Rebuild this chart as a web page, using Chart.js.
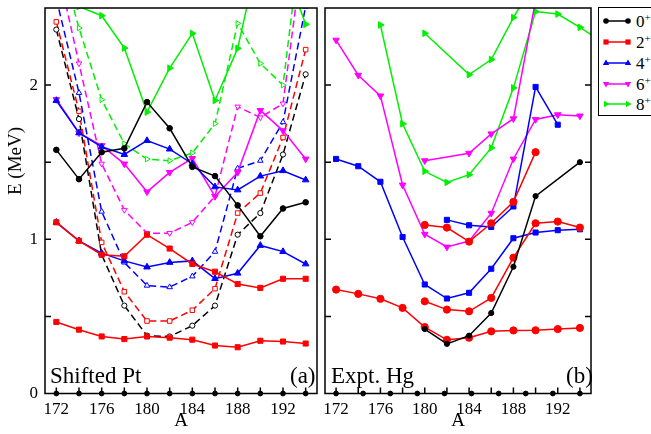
<!DOCTYPE html>
<html>
<head>
<meta charset="utf-8">
<script src="https://cdn.jsdelivr.net/npm/chart.js@4.4.1/dist/chart.umd.min.js"></script>
<style>
  html, body { margin: 0; padding: 0; background: #fff; }
  body { width: 651px; height: 434px; position: relative; overflow: hidden; font-family: "Liberation Serif", "DejaVu Serif", serif; }
  canvas { position: absolute; top: 0; }
  #ptChart { left: 0; }
  #hgChart { left: 320px; }
  .lbl { position: absolute; font-size: 23px; line-height: 23px; white-space: nowrap; color: #000; }
  #ytitle { position: absolute; left: 15px; top: 161px; font-size: 19px; white-space: nowrap; transform: translate(-50%, -50%) rotate(-90deg); }
  #legend { position: absolute; left: 598px; top: 7px; width: 80px; height: 107px; border: 1.5px solid #000; background: #fff; }
  .row { position: absolute; left: 0; height: 20px; width: 80px; }
  .row svg { position: absolute; left: 3px; top: 0; }
  .row span { position: absolute; left: 37px; top: 1px; font-size: 17px; line-height: 20px; }
  .row sup { font-size: 11px; vertical-align: 6px; line-height: 0; }
</style>
</head>
<body>
<canvas id="ptChart" width="322" height="434"></canvas>
<canvas id="hgChart" width="276" height="434"></canvas>
<div id="ytitle">E (MeV)</div>
<div class="lbl" style="left:50px; top:364px;">Shifted Pt</div>
<div class="lbl" style="left:290px; top:364px;">(a)</div>
<div class="lbl" style="left:331px; top:364px;">Expt. Hg</div>
<div class="lbl" style="left:566px; top:364px;">(b)</div>
<div id="legend"></div>
<script>
// mass numbers
const massA = [172, 174, 176, 178, 180, 182, 184, 186, 188, 190, 192, 194];
const massHgExtra = [172, 174, 176, 178, 180, 182, 184, 186, 188, 190, 192, 194, 196];
const xTickLabels = [172, 176, 180, 184, 188, 192];
const xTickMarks = [172, 174, 176, 178, 180, 182, 184, 186, 188, 190, 192, 194];
const yTickLabels = [0, 1, 2];
const yTickMarks = [0.5, 1, 1.5, 2];
const baseDotsPt = [172, 174, 176, 178, 180, 182, 184, 186, 188, 190, 192, 194];
const baseDotsHg = [172, 174.44, 176.89, 179.33, 181.78, 184.22, 186.67, 189.11, 191.56, 194];

// (a) shifted Pt, solid lines
const pt0 = [1.58, 1.39, 1.565, 1.59, 1.89, 1.72, 1.47, 1.41, 1.22, 1.02, 1.20, 1.24];
const pt2a = [0.464, 0.414, 0.37, 0.353, 0.37, 0.362, 0.349, 0.311, 0.30, 0.342, 0.337, 0.324];
const pt2b = [1.11, 0.99, 0.90, 0.89, 1.03, 0.94, 0.84, 0.79, 0.71, 0.685, 0.744, 0.744];
const pt4a = [1.11, 0.99, 0.91, 0.86, 0.82, 0.85, 0.86, 0.745, 0.78, 0.96, 0.92, 0.84];
const pt4b = [1.90, 1.69, 1.60, 1.55, 1.64, 1.585, 1.49, 1.34, 1.32, 1.41, 1.445, 1.385];
const pt6 = [1.907, 1.69, 1.608, 1.489, 1.308, 1.434, 1.525, 1.278, 1.434, 1.836, 1.705, 1.521];
const pt8 = [2.7, 2.51, 2.45, 2.24, 1.825, 2.11, 2.335, 1.90, 2.238, 2.9, 2.8, 2.394];

// (a) dashed lines
const ptd0 = [2.36, 1.78, 0.90, 0.57, 0.375, 0.37, 0.44, 0.57, 1.03, 1.17, 1.55, 2.07];
const ptd2 = [2.41, 1.83, 0.98, 0.66, 0.47, 0.47, 0.54, 0.68, 1.17, 1.30, 1.66, 2.23];
const ptd4 = [2.56, 1.95, 1.18, 0.85, 0.70, 0.69, 0.76, 0.92, 1.46, 1.51, 1.76, 2.51];
const ptd6 = [2.8, 2.14, 1.49, 1.19, 1.04, 1.04, 1.11, 1.28, 1.86, 1.79, 1.88, 3.0];
const ptd8 = [2.9, 2.37, 1.905, 1.62, 1.52, 1.51, 1.56, 1.75, 2.40, 2.14, 2.00, 3.2];

// (b) experimental Hg
const hg0 = [null, null, null, null, 0.418, 0.322, 0.375, 0.522, 0.822, 1.28, null, 1.50];
const hg2a = [0.674, 0.646, 0.614, 0.555, 0.431, 0.348, 0.362, 0.403, 0.409, 0.41, 0.418, 0.425];
const hg2b = [null, null, null, null, 0.598, 0.544, 0.533, 0.62, 0.881, 1.104, 1.115, 1.076];
const hg2c = [null, null, null, null, 1.093, 1.076, 0.985, 1.104, 1.243, 1.565, null, null];
const hg4a = [1.521, 1.474, 1.373, 1.015, 0.707, 0.616, 0.653, 0.809, 1.007, 1.044, 1.059, 1.065];
const hg4b = [null, null, null, null, null, 1.126, 1.091, 1.08, 1.213, 1.988, 1.743, null];
const hg6a = [2.292, 2.064, 1.93, 1.352, 1.033, 0.95, 0.989, 1.169, 1.521, 1.777, 1.808, 1.80];
const hg6b = [null, null, null, null, 1.51, null, 1.558, 1.684, 1.782, 2.55, null, null];
const hg8a = [null, null, 2.39, 1.749, 1.441, 1.369, 1.419, 1.593, 1.982, 2.477, 2.461, 2.375, 2.28];
const hg8b = [null, null, null, null, 2.336, null, 2.068, 2.166, 2.438, 2.68, null, null];

const BLACK = "#000000", RED = "#ff0000", BLUE = "#0000ff", MAGENTA = "#ff00ff", GREEN = "#00f000";

function series(xs, ys, color, marker, opts = {}) {
  const open = opts.open || false;
  return {
    data: xs.map((x, i) => ({ x, y: ys[i] })).filter(p => p.y != null),
    borderColor: color,
    backgroundColor: color,
    borderWidth: 1.5,
    borderDash: opts.dashed ? [7, 4] : [],
    pointStyle: marker.style,
    pointRotation: marker.rot || 0,
    pointRadius: opts.r || marker.r,
    pointBorderWidth: 1,
    pointBorderColor: color,
    pointBackgroundColor: open ? "#ffffff" : color,
    tension: 0
  };
}

const mCircle = { style: "circle", r: 2.8 };
const mSquare = { style: "rect", r: 3.6 };
const mUp = { style: "triangle", r: 3.8 };
const mDown = { style: "triangle", rot: 180, r: 3.8 };
const mRight = { style: "triangle", rot: 90, r: 3.8 };

function baseDots(xs) {
  return {
    data: xs.map(x => ({ x, y: 0 })),
    showLine: false,
    pointRadius: 2.4,
    pointBackgroundColor: BLACK,
    pointBorderColor: BLACK,
    clip: false
  };
}

const frameTicks = {
  id: "frameTicks",
  afterDatasetsDraw(chart, args, opts) {
    const { ctx, chartArea: a, scales } = chart;
    ctx.save();
    ctx.strokeStyle = "#000";
    ctx.lineWidth = 1.5;
    ctx.beginPath();
    xTickMarks.forEach(v => {
      const px = scales.x.getPixelForValue(v);
      ctx.moveTo(px, a.bottom);
      ctx.lineTo(px, a.bottom - 6);
    });
    yTickMarks.forEach(v => {
      const py = scales.y.getPixelForValue(v);
      if (opts.left) { ctx.moveTo(a.left, py); ctx.lineTo(a.left + 6, py); }
      if (opts.right) { ctx.moveTo(a.right, py); ctx.lineTo(a.right - 6, py); }
    });
    ctx.stroke();
    ctx.strokeRect(a.left, a.top, a.width, a.height);
    ctx.restore();
  }
};

function noPad(s) {
  s.paddingTop = 0; s.paddingBottom = 0; s.paddingLeft = 0; s.paddingRight = 0;
}

function xScale() {
  return {
    type: "linear",
    min: 171,
    max: 195,
    grid: { display: false, drawTicks: false },
    border: { display: false },
    afterBuildTicks: s => { s.ticks = xTickLabels.map(v => ({ value: v })); },
    afterFit: s => { s.height = 40.5; noPad(s); },
    ticks: { autoSkip: false, maxRotation: 0, padding: 6, color: "#000", font: { family: "Liberation Serif", size: 17 } },
    title: { display: true, text: "A", color: "#000", padding: { top: 0, bottom: 2 }, font: { family: "Liberation Serif", size: 19 } }
  };
}

Chart.defaults.animation = false;

new Chart(document.getElementById("ptChart"), {
  type: "scatter",
  data: {
    datasets: [
      series(massA, pt2a, RED, mSquare),
      series(massA, pt2b, RED, mSquare),
      series(massA, pt4a, BLUE, mUp),
      series(massA, pt0, BLACK, mCircle),
      series(massA, pt4b, BLUE, mUp),
      series(massA, pt6, MAGENTA, mDown),
      series(massA, pt8, GREEN, mRight),
      series(massA, ptd0, BLACK, mCircle, { dashed: true, open: true, r: 2.6 }),
      series(massA, ptd2, RED, mSquare, { dashed: true, open: true, r: 3.2 }),
      series(massA, ptd4, BLUE, mUp, { dashed: true, open: true, r: 3.2 }),
      series(massA, ptd6, MAGENTA, mDown, { dashed: true, open: true, r: 3.2 }),
      series(massA, ptd8, GREEN, mRight, { dashed: true, open: true, r: 3.2 }),
      baseDots(baseDotsPt)
    ].map(d => Object.assign({ showLine: true }, d))
  },
  options: {
    responsive: false,
    layout: { padding: { top: 8, right: 1, left: 0, bottom: 0 } },
    scales: {
      x: xScale(),
      y: {
        type: "linear",
        min: 0,
        max: 2.5,
        grid: { display: false, drawTicks: false },
        border: { display: false },
        afterBuildTicks: s => { s.ticks = yTickLabels.map(v => ({ value: v })); },
        afterFit: s => { s.width = 45; noPad(s); },
        ticks: { padding: 7, color: "#000", font: { family: "Liberation Serif", size: 17 } }
      }
    },
    plugins: { legend: { display: false }, tooltip: { enabled: false }, frameTicks: { left: true, right: false } }
  },
  plugins: [frameTicks]
});

const bigCircle = { style: "circle", r: 3.6 };
const hgSquare = { style: "rect", r: 3.6 };

new Chart(document.getElementById("hgChart"), {
  type: "scatter",
  data: {
    datasets: [
      series(massA, hg0, BLACK, { style: "circle", r: 2.6 }),
      series(massA, hg2a, RED, bigCircle),
      series(massA, hg2b, RED, bigCircle),
      series(massA, hg2c, RED, bigCircle),
      series(massA, hg4a, BLUE, hgSquare),
      series(massA, hg4b, BLUE, hgSquare),
      series(massA, hg6a, MAGENTA, mDown),
      series(massA, hg6b, MAGENTA, mDown),
      series(massHgExtra, hg8a, GREEN, mRight),
      series(massA, hg8b, GREEN, mRight),
      baseDots(baseDotsHg)
    ].map(d => Object.assign({ showLine: true }, d))
  },
  options: {
    responsive: false,
    layout: { padding: { top: 8, right: 1, left: 1, bottom: 0 } },
    scales: {
      x: xScale(),
      y: { type: "linear", min: 0, max: 2.5, display: false }
    },
    plugins: { legend: { display: false }, tooltip: { enabled: false }, frameTicks: { left: true, right: true } }
  },
  plugins: [frameTicks]
});

// legend box (line + marker at both ends)
const legendLabels = ["0", "2", "4", "6", "8"];
const legendColors = [BLACK, RED, BLUE, MAGENTA, GREEN];
const legendRows = [13, 34, 55, 75.5, 96];
function markerSvg(i, cx, cy, c) {
  if (i === 0) return `<circle cx="${cx}" cy="${cy}" r="2.8" fill="${c}"/>`;
  if (i === 1) return `<rect x="${cx - 2.6}" y="${cy - 2.6}" width="5.2" height="5.2" fill="${c}"/>`;
  if (i === 2) return `<polygon points="${cx},${cy - 3.6} ${cx + 3.2},${cy + 2} ${cx - 3.2},${cy + 2}" fill="${c}"/>`;
  if (i === 3) return `<polygon points="${cx},${cy + 3.6} ${cx + 3.2},${cy - 2} ${cx - 3.2},${cy - 2}" fill="${c}"/>`;
  return `<polygon points="${cx + 3.6},${cy} ${cx - 2},${cy - 3.2} ${cx - 2},${cy + 3.2}" fill="${c}"/>`;
}
const legend = document.getElementById("legend");
legendLabels.forEach((lab, i) => {
  const c = legendColors[i];
  const row = document.createElement("div");
  row.className = "row";
  row.style.top = (legendRows[i] - 10) + "px";
  row.innerHTML =
    `<svg width="32" height="20"><line x1="4" y1="10" x2="26" y2="10" stroke="${c}" stroke-width="1.5"/>` +
    markerSvg(i, 4, 10, c) + markerSvg(i, 26, 10, c) + `</svg>` +
    `<span>${lab}<sup>+</sup></span>`;
  legend.appendChild(row);
});
</script>
</body>
</html>
